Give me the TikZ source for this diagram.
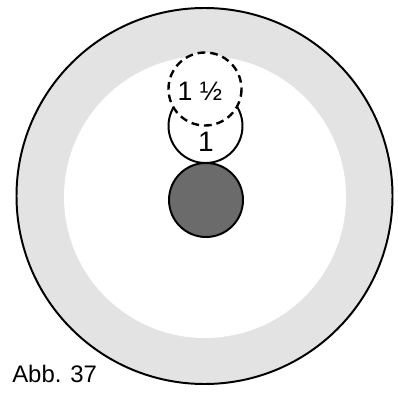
\documentclass[tikz,border=0pt]{standalone}
\usepackage{fontspec}
\setmainfont{Liberation Sans}
\usepackage{tikz}
\begin{document}
\begin{tikzpicture}[x=0.025cm,y=-0.025cm,font=\fontsize{17}{20}\selectfont,line cap=round,
  coin/.style={draw=black,line width=1.4pt}]
\useasboundingbox (0,0) rectangle (398,392);
% plate and inner field
\fill[gray!22] (204.5,196) circle[radius=188];
\fill[white] (205,197) circle[radius=141];
\draw[line width=1.4pt] (204.5,196) circle[radius=188];
% pieces
\filldraw[coin,fill=black!58] (206,200) circle[radius=37];
\filldraw[coin,fill=white] (205.5,126) circle[radius=37];
\filldraw[coin,fill=white,line width=1.7pt,line cap=butt,dash pattern=on 5.5pt off 3.5pt] (205,89) circle[radius=36.5];
\node[font=\fontsize{20}{24}\selectfont] (one) at (206,142) {1};
\node[font=\fontsize{19}{22}\selectfont] (onehalf) at (200,91) {1 ½};
\node[anchor=base west,inner sep=0pt] (caption) at (12,382) {Abb. 37};
\end{tikzpicture}
\end{document}
